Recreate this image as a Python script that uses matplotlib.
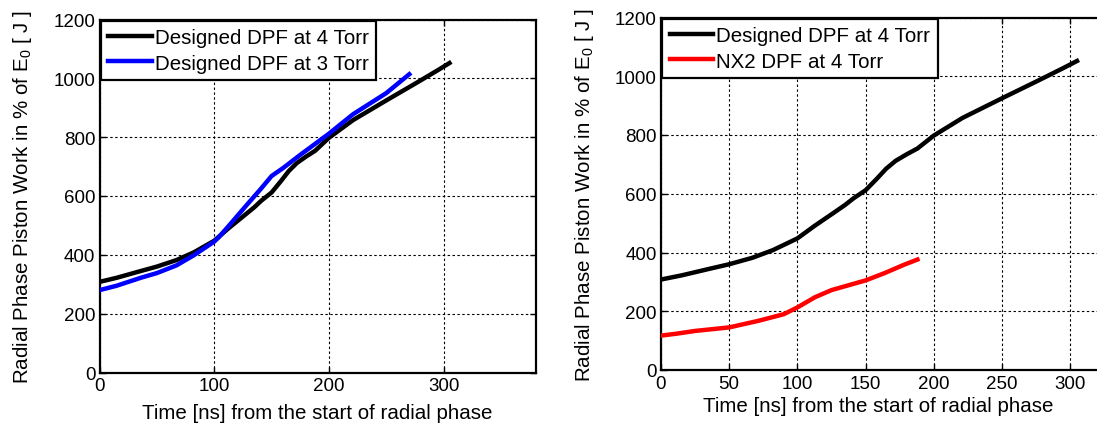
import matplotlib
matplotlib.use("Agg")
import matplotlib.pyplot as plt

plt.rcParams['font.family'] = ['Liberation Sans', 'DejaVu Sans']
plt.rcParams['mathtext.fontset'] = 'custom'
plt.rcParams['mathtext.rm'] = 'Liberation Sans'
plt.rcParams['mathtext.it'] = 'Liberation Sans'

# Designed DPF at 4 Torr (same run appears in both panels)
t_design4 = [0, 15, 36, 50, 67, 82, 100, 113, 125, 135, 141, 150, 158, 165, 172, 180, 188,
             200, 221, 250, 276, 295, 305]
w_design4 = [308, 322, 345, 360, 382, 408, 448, 492, 530, 562, 584, 612, 650, 685, 712, 734, 754,
             798, 858, 925, 984, 1028, 1052]

# Designed DPF at 3 Torr
t_design3 = [0, 15, 36, 50, 67, 82, 100, 104, 113, 128, 141, 150, 160, 175, 200, 221, 250, 270]
w_design3 = [280, 295, 322, 338, 364, 398, 445, 460, 500, 568, 626, 668, 695, 740, 812, 878, 950, 1014]

# NX2 DPF at 4 Torr
t_nx2 = [0, 12, 25, 50, 72, 90, 100, 113, 125, 150, 164, 178, 188]
w_nx2 = [117, 124, 133, 145, 168, 190, 213, 248, 272, 305, 330, 358, 376]

xlabel = 'Time [ns] from the start of radial phase'
ylabel = 'Radial Phase Piston Work in % of E$_0$ [ J ]'

left_xticks = [0, 100, 200, 300]
right_xticks = [0, 50, 100, 150, 200, 250, 300]
yticks = [0, 200, 400, 600, 800, 1000, 1200]

fig = plt.figure(figsize=(10.97, 4.27), dpi=100)
W, H = 1097, 427


def make_axes(x0, y_top, x1, y_bot):
    return fig.add_axes([x0 / W, 1 - y_bot / H, (x1 - x0) / W, (y_bot - y_top) / H])


ax1 = make_axes(99.5, 20.5, 535.5, 373.5)
ax2 = make_axes(661, 18.5, 661 + 380 * 1.364, 371)

grid_style = dict(color='black', linestyle=(0, (2.2, 2.2)), linewidth=0.8)

for ax, xt in ((ax1, left_xticks), (ax2, right_xticks)):
    ax.set_xlim(0, 380)
    ax.set_ylim(0, 1200)
    ax.set_xticks(xt)
    ax.set_yticks(yticks)
    ax.tick_params(direction='in', top=True, right=True, length=4, width=1.0,
                   labelsize=13.5, colors='black')
    ax.tick_params(axis='x', pad=3.5)
    ax.tick_params(axis='y', pad=3)
    ax.grid(True, **grid_style)
    for s in ax.spines.values():
        s.set_linewidth(1.6)
        s.set_color('black')
    ax.set_xlabel(xlabel, fontsize=14.8, labelpad=6)
    ax.set_ylabel(ylabel, fontsize=14.8, labelpad=14)

# the right panel runs past the figure edge; keep its x label under the visible part
ax2.xaxis.set_label_coords((878 - 661) / (380 * 1.364), -0.075)
ax2.xaxis.label.set_verticalalignment('top')

ax1.plot(t_design4, w_design4, color='black', lw=3.2, label='Designed DPF at 4 Torr', zorder=3)
ax1.plot(t_design3, w_design3, color='#0000ff', lw=3.2, label='Designed DPF at 3 Torr', zorder=3)

ax2.plot(t_design4, w_design4, color='black', lw=3.2, label='Designed DPF at 4 Torr', zorder=3)
ax2.plot(t_nx2, w_nx2, color='#ff0000', lw=3.2, label='NX2 DPF at 4 Torr', zorder=3)

for ax in (ax1, ax2):
    leg = ax.legend(loc='upper left', fontsize=14.8, frameon=True, fancybox=False,
                    edgecolor='black', framealpha=1, borderaxespad=0.05,
                    handlelength=2.1, handletextpad=0.15, borderpad=0.38,
                    labelspacing=0.3)
    leg.get_frame().set_linewidth(1.6)
    leg.set_zorder(5)

fig.savefig('out.png', dpi=100)
